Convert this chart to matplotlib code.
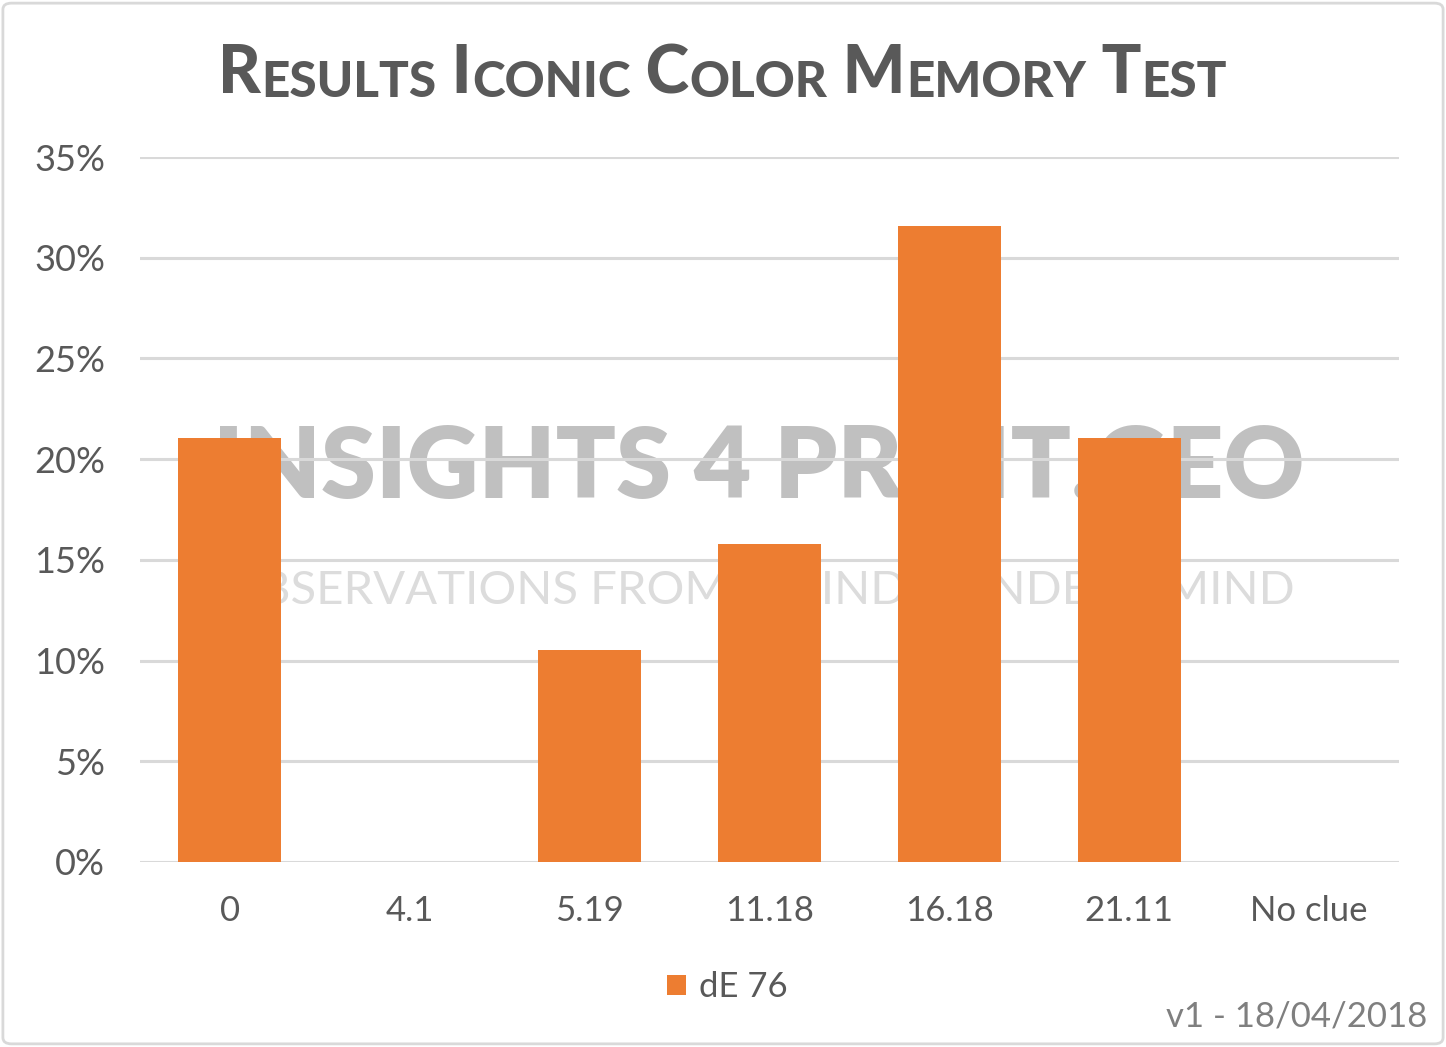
import matplotlib.pyplot as plt
import numpy as np
from matplotlib.patches import FancyBboxPatch
from matplotlib.ticker import PercentFormatter

# data (share of answers per dE 76 category)
categories = ['0', '4.1', '5.19', '11.18', '16.18', '21.11', 'No clue']
shares = [0.2105, 0.0, 0.1053, 0.1579, 0.3158, 0.2105, 0.0]
series_name = 'dE 76'
y_ticks = [0, 0.05, 0.10, 0.15, 0.20, 0.25, 0.30, 0.35]

# title pieces written as fake small caps: (text, is_capital)
title_parts = [('R', True), ('ESULTS', False), (' I', True), ('CONIC', False),
               (' C', True), ('OLOR', False), (' M', True), ('EMORY', False),
               (' T', True), ('EST', False)]

orange = '#ED7D31'
text_grey = '#595959'
grid_grey = '#D9D9D9'

plt.rcParams['font.family'] = ['Lato', 'DejaVu Sans']

fig = plt.figure(figsize=(14.46, 10.47), dpi=100)
ax = fig.add_axes([0.0968, 0.1767, 0.8707, 0.6733])
ax.set_facecolor('none')

# watermark behind everything
ax.text(0.5245, 0.552, 'INSIGHTS 4 PRINT.GEO', transform=fig.transFigure,
        fontsize=71.5, fontweight='heavy', color='#C0C0C0',
        ha='center', va='center', zorder=0)
ax.text(0.5245, 0.436, 'OBSERVATIONS FROM AN INDEPENDENT MIND',
        transform=fig.transFigure, fontsize=34, color='#DCDCDC',
        ha='center', va='center', zorder=0)

x = np.arange(len(categories))
ax.bar(x, shares, width=0.572, color=orange, zorder=3, label=series_name)

ax.set_xlim(-0.5, len(categories) - 0.5)
ax.set_ylim(0, 0.35)
ax.set_yticks(y_ticks)
ax.yaxis.set_major_formatter(PercentFormatter(1.0, decimals=0))
ax.set_xticks(x)
ax.set_xticklabels(categories)
ax.grid(axis='y', color=grid_grey, linewidth=2.2, zorder=1)
ax.set_axisbelow(False)
for line in ax.get_ygridlines():
    line.set_zorder(1)
ax.tick_params(axis='y', length=0, pad=25, labelsize=26, labelcolor=text_grey)
ax.tick_params(axis='x', length=0, pad=24, labelsize=25, labelcolor=text_grey)
for s in ax.spines.values():
    s.set_visible(False)

# title with small caps effect
prev = None
for txt, cap in title_parts:
    size = 47.5 if cap else 35.6
    if prev is None:
        prev = fig.text(0.151, 0.911, txt, fontsize=size, fontweight='black',
                        color=text_grey, ha='left', va='baseline')
    else:
        prev = ax.annotate(txt, xy=(1, 0), xycoords=prev, fontsize=size,
                           fontweight='black', color=text_grey,
                           ha='left', va='bottom', annotation_clip=False)

fig.legend(loc='center', bbox_to_anchor=(0.503, 0.057), frameon=False,
           fontsize=25, labelcolor=text_grey, handlelength=0.55,
           handleheight=0.55, handletextpad=0.35)

fig.text(0.987, 0.029, 'v1 - 18/04/2018', fontsize=25, color='#7F7F7F',
         ha='right', va='center')

# light border round the chart area
fig.patches.append(FancyBboxPatch((0.002, 0.003), 0.996, 0.994,
                                  boxstyle='round,pad=0,rounding_size=0.006',
                                  transform=fig.transFigure, fill=False,
                                  edgecolor=grid_grey, linewidth=2))

fig.savefig('out.png', dpi=100)
